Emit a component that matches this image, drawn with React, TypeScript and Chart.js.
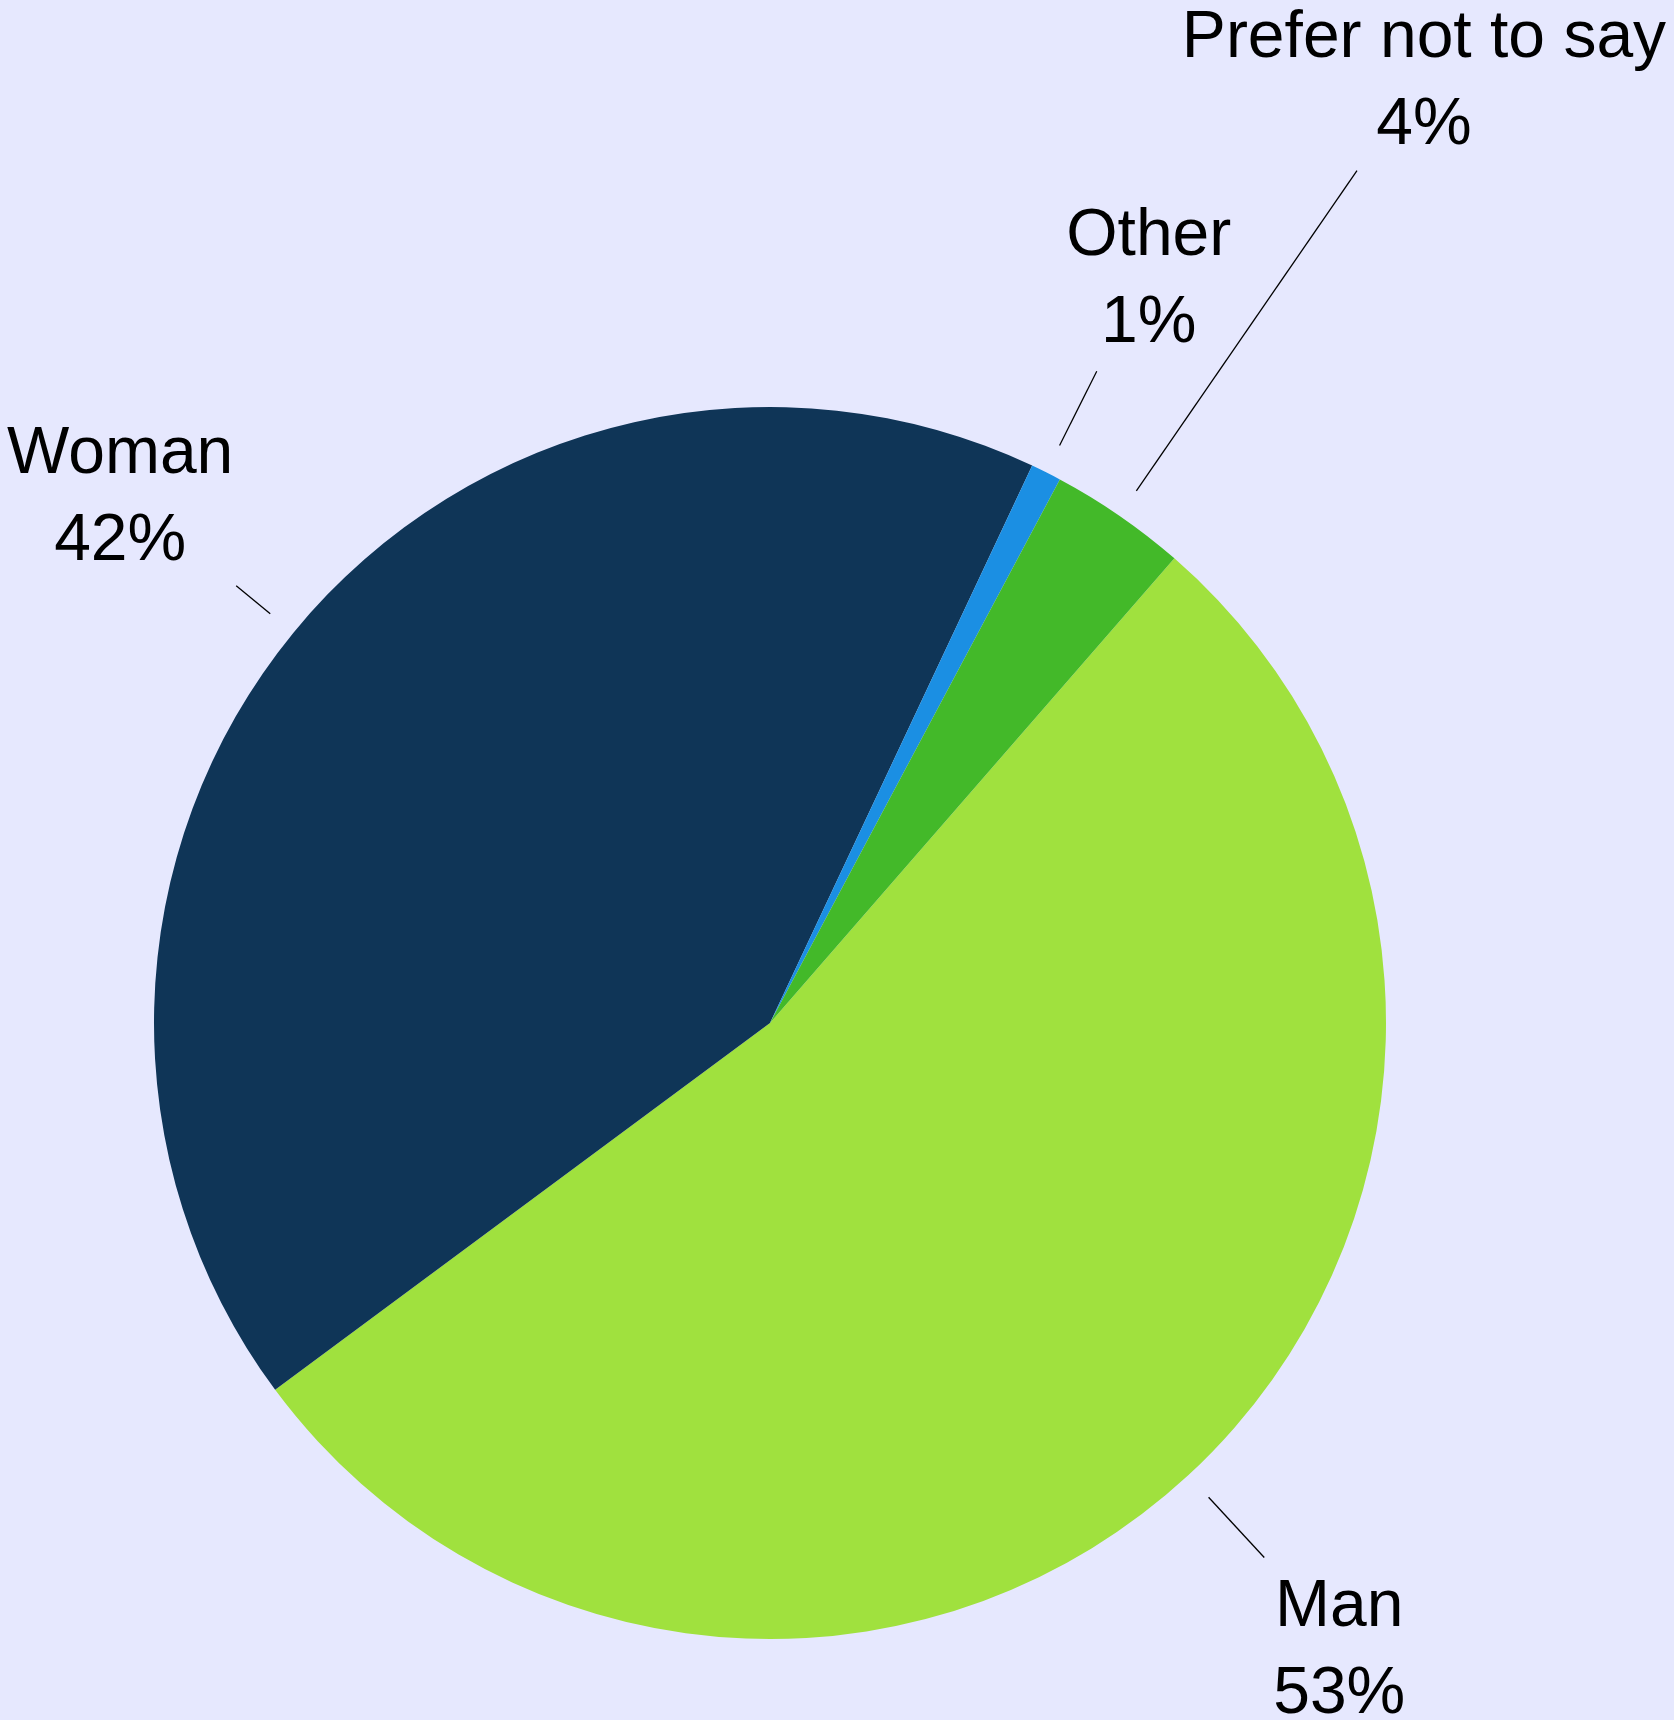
import React, { useEffect, useRef } from "react";
import { Chart, registerables } from "chart.js";

Chart.register(...registerables);

const categories = ["Man", "Woman", "Other", "Prefer not to say"];
const values = [53.45, 42.15, 0.8, 3.6];
const percentLabels = ["53%", "42%", "1%", "4%"];
const colors = ["#A0E13E", "#0F3557", "#1B8FE3", "#43B929"];

// leader line length beyond the gap, and label block offset from leader end
const leaderExt = [112, 74, 113, 419];
const labelDx = [75, -116, 52, 67];
const labelDy = [68, -113, -116, -114];

const BG = "#E6E8FE";

const labelPlugin = {
  id: "pieLabels",
  afterDatasetsDraw(chart: any) {
    const ctx = chart.ctx;
    const meta = chart.getDatasetMeta(0);
    ctx.save();
    meta.data.forEach((arc: any, i: number) => {
      const { x, y, startAngle, endAngle, outerRadius } = arc.getProps(
        ["x", "y", "startAngle", "endAngle", "outerRadius"],
        true
      );
      const mid = (startAngle + endAngle) / 2;
      const r0 = outerRadius + 30;
      const r1 = outerRadius + leaderExt[i];
      const x0 = x + Math.cos(mid) * r0;
      const y0 = y + Math.sin(mid) * r0;
      const x1 = x + Math.cos(mid) * r1;
      const y1 = y + Math.sin(mid) * r1;
      ctx.beginPath();
      ctx.moveTo(x0, y0);
      ctx.lineTo(x1, y1);
      ctx.strokeStyle = "#000";
      ctx.lineWidth = 1.3;
      ctx.stroke();

      ctx.fillStyle = "#000";
      ctx.font = '66px "Liberation Sans", Arial, sans-serif';
      ctx.textAlign = "center";
      ctx.textBaseline = "alphabetic";
      const cx = x1 + labelDx[i];
      const by = y1 + labelDy[i];
      ctx.fillText(categories[i], cx, by);
      ctx.fillText(percentLabels[i], cx, by + 87);
    });
    ctx.restore();
  },
};

export default function App() {
  const ref = useRef<HTMLCanvasElement | null>(null);

  useEffect(() => {
    if (!ref.current) return;
    const chart = new Chart(ref.current, {
      type: "pie",
      data: {
        labels: categories,
        datasets: [
          {
            data: values,
            backgroundColor: colors,
            borderWidth: 0,
            hoverOffset: 0,
            offset: 0,
          },
        ],
      },
      options: {
        responsive: false,
        animation: false,
        rotation: 41.03,
        layout: {
          padding: { left: 154, right: 288, top: 407, bottom: 81 },
        },
        plugins: {
          legend: { display: false },
          tooltip: { enabled: false },
        },
        events: [],
      },
      plugins: [labelPlugin],
    });
    return () => chart.destroy();
  }, []);

  return (
    <div
      style={{
        position: "absolute",
        left: 0,
        top: 0,
        width: 1674,
        height: 1720,
        background: BG,
      }}
    >
      <canvas ref={ref} width={1674} height={1720} style={{ display: "block" }} />
    </div>
  );
}
